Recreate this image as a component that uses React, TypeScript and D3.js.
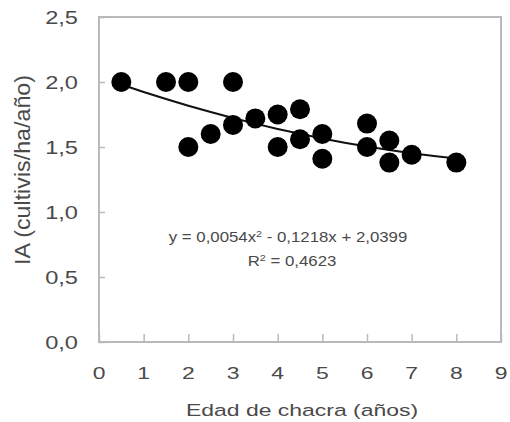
import React, { useEffect, useRef } from 'react';
import * as d3 from 'd3';

// observed points: age of field (years) vs IA
const ages = [0.5, 1.5, 2, 3, 2, 2.5, 3, 3.5, 4, 4.5, 4, 4.5, 5, 5, 6, 6, 6.5, 6.5, 7, 8];
const iaValues = [2.0, 2.0, 2.0, 2.0, 1.5, 1.6, 1.67, 1.72, 1.75, 1.79, 1.5, 1.56, 1.6, 1.41, 1.68, 1.5, 1.55, 1.38, 1.44, 1.38];

// polynomial trend (from the reference's equation)
const coefs = [2.0399, -0.1218, 0.0054];
const trendXs = [0.5, 1, 1.5, 2, 2.5, 3, 3.5, 4, 4.5, 5, 5.5, 6, 6.5, 7, 7.5, 8];

const xTicks = [0, 1, 2, 3, 4, 5, 6, 7, 8, 9];
const yTicks = [0, 0.5, 1, 1.5, 2, 2.5];

const eqText = 'y = 0,0054x';
const eqRest = ' - 0,1218x + 2,0399';
const r2Text = ' = 0,4623';

const App = () => {
  const ref = useRef<SVGSVGElement>(null);

  useEffect(() => {
    if (!ref.current) return;
    const svg = d3.select(ref.current);
    svg.selectAll('*').remove();

    const width = 510;
    const height = 422;
    const margin = { top: 17, right: 9, bottom: 80, left: 99 };
    const font = '"Liberation Sans", Arial, sans-serif';
    const axisColor = '#b9b9b9';
    const textColor = '#4a4a4a';
    const sx = 1.35; // the text in the original is stretched wide

    const x = d3.scaleLinear().domain([0, 9]).range([margin.left, width - margin.right]);
    const y = d3.scaleLinear().domain([0, 2.5]).range([height - margin.bottom, margin.top]);

    // frame
    svg.append('rect')
      .attr('x', x(0)).attr('y', y(2.5))
      .attr('width', x(9) - x(0)).attr('height', y(0) - y(2.5))
      .attr('fill', 'none').attr('stroke', axisColor).attr('stroke-width', 2);

    // x axis (ticks inward)
    const gx = svg.append('g')
      .attr('transform', `translate(0,${y(0)})`)
      .call(d3.axisTop(x).tickValues(xTicks).tickSize(8).tickFormat(() => ''));
    gx.select('.domain').remove();
    gx.selectAll('line').attr('stroke', axisColor).attr('stroke-width', 1.5);

    svg.append('g').selectAll('text').data(xTicks).join('text')
      .attr('transform', d => `translate(${x(d)},${y(0) + 37}) scale(${sx},1)`)
      .attr('text-anchor', 'middle')
      .attr('font-family', font).attr('font-size', 17).attr('fill', textColor)
      .text(d => String(d));

    // y axis (ticks inward)
    const gy = svg.append('g')
      .attr('transform', `translate(${x(0)},0)`)
      .call(d3.axisRight(y).tickValues(yTicks).tickSize(6).tickFormat(() => ''));
    gy.select('.domain').remove();
    gy.selectAll('line').attr('stroke', axisColor).attr('stroke-width', 1.5);

    svg.append('g').selectAll('text').data(yTicks).join('text')
      .attr('transform', d => `translate(${x(0) - 21},${y(d) + 7}) scale(${sx},1)`)
      .attr('text-anchor', 'end')
      .attr('font-family', font).attr('font-size', 17.5).attr('fill', textColor)
      .text(d => d.toFixed(1).replace('.', ','));

    // titles
    svg.append('text')
      .attr('transform', `translate(302,416) scale(${sx},1)`)
      .attr('text-anchor', 'middle')
      .attr('font-family', font).attr('font-size', 17).attr('fill', textColor)
      .text('Edad de chacra (años)');

    svg.append('text')
      .attr('transform', `translate(30,170) scale(${sx},1) rotate(-90)`)
      .attr('text-anchor', 'middle')
      .attr('font-family', font).attr('font-size', 17).attr('fill', textColor)
      .attr('textLength', 190).attr('lengthAdjust', 'spacingAndGlyphs')
      .text('IA (cultivis/ha/año)');

    // trend line
    const poly = (v: number) => coefs[0] + coefs[1] * v + coefs[2] * v * v;
    const line = d3.line<number>()
      .x(d => x(d))
      .y(d => y(poly(d)))
      .curve(d3.curveMonotoneX);
    svg.append('path')
      .datum(trendXs)
      .attr('fill', 'none')
      .attr('stroke', '#111')
      .attr('stroke-width', 2)
      .attr('d', line);

    // points
    svg.append('g').selectAll('circle').data(ages).join('circle')
      .attr('cx', d => x(d))
      .attr('cy', (_, i) => y(iaValues[i]))
      .attr('r', 10)
      .attr('fill', '#000');

    // equation label
    const eq = svg.append('text')
      .attr('transform', `translate(288,242) scale(1.2,1)`)
      .attr('text-anchor', 'middle')
      .attr('font-family', font).attr('font-size', 14).attr('fill', textColor);
    eq.append('tspan').text(eqText);
    eq.append('tspan').attr('dy', -5).attr('font-size', 9).text('2');
    eq.append('tspan').attr('dy', 5).text(eqRest);

    const r2 = svg.append('text')
      .attr('transform', `translate(292,266) scale(1.2,1)`)
      .attr('text-anchor', 'middle')
      .attr('font-family', font).attr('font-size', 14).attr('fill', textColor);
    r2.append('tspan').text('R');
    r2.append('tspan').attr('dy', -5).attr('font-size', 9).text('2');
    r2.append('tspan').attr('dy', 5).text(r2Text);
  }, []);

  return (
    <svg
      ref={ref}
      width={510}
      height={422}
      style={{ position: 'absolute', left: 0, top: 0, background: '#fff' }}
    />
  );
};

export default App;
